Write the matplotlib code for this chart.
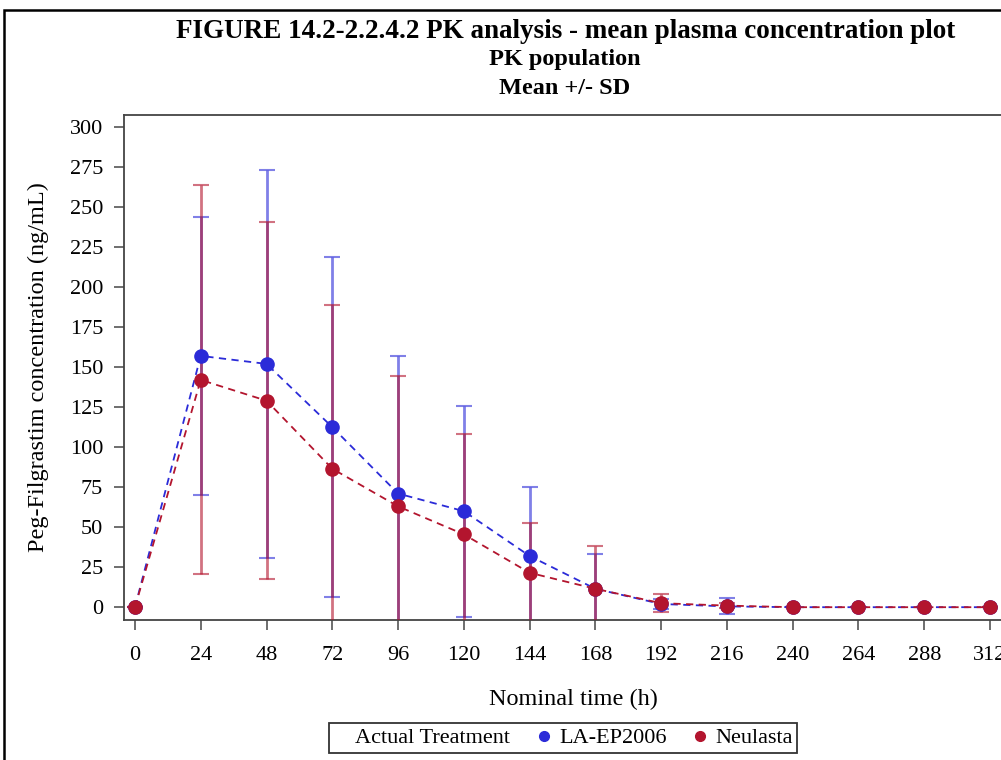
import matplotlib
matplotlib.use("Agg")
import matplotlib.pyplot as plt
from matplotlib.lines import Line2D
from matplotlib.patches import Rectangle

plt.rcParams['font.family'] = ['Liberation Serif', 'DejaVu Serif']

# nominal time points (h)
times = [0, 24, 48, 72, 96, 120, 144, 168, 192, 216, 240, 264, 288, 312]

# LA-EP2006 mean and SD
la_mean = [0, 157, 152, 112.5, 71, 60, 32, 11.5, 2, 0.5, 0, 0, 0, 0]
la_sd = [0, 87, 121, 106, 86, 66, 43, 22, 3, 5, 0, 0, 0, 0]

# Neulasta mean and SD
neu_mean = [0, 142, 129, 86.5, 63, 45.5, 21.5, 11.5, 2.5, 1, 0, 0, 0, 0]
neu_sd = [0, 121.5, 111.5, 102, 81.5, 62.5, 31, 27, 5.5, 1.5, 0, 0, 0, 0]

xticks = list(range(0, 313, 24))
yticks = list(range(0, 301, 25))

blue = '#2B2BD8'
red = '#B3152E'

fig = plt.figure(figsize=(10.01, 7.6), dpi=100)
ax = fig.add_axes([124 / 1001, 1 - 620 / 760, 0.898, 505 / 760])

# error bars first, drawn semi transparent
ax.errorbar(times, la_mean, yerr=la_sd, fmt='none', ecolor=blue, alpha=0.6,
            elinewidth=2, capsize=5.8, capthick=1.5, zorder=2)
ax.errorbar(times, neu_mean, yerr=neu_sd, fmt='none', ecolor=red, alpha=0.6,
            elinewidth=2, capsize=5.8, capthick=1.5, zorder=3)

ax.plot(times, la_mean, color=blue, ls=(0, (4, 3)), lw=1.3, zorder=4)
ax.plot(times, neu_mean, color=red, ls=(0, (4, 3)), lw=1.3, zorder=5)
ax.plot(times, la_mean, 'o', color=blue, ms=9.5, zorder=6)
ax.plot(times, neu_mean, 'o', color=red, ms=9.5, zorder=7)

ax.set_xlim(-4, 324)
ax.set_ylim(-8, 307.5)
ax.set_xticks(xticks)
ax.set_yticks(yticks)
ax.tick_params(direction='out', length=7, width=1.2, color='#555555',
               labelsize=16)
ax.tick_params(axis='x', pad=12)
ax.tick_params(axis='y', pad=8)
for s in ax.spines.values():
    s.set_color('#444444')
    s.set_linewidth(1.3)

ax.set_xlabel('Nominal time (h)', fontsize=17.5, labelpad=17)
ax.set_ylabel('Peg-Filgrastim concentration (ng/mL)', fontsize=17.5, labelpad=15)

fig.text(0.565, 1 - 31 / 760, 'FIGURE 14.2-2.2.4.2 PK analysis - mean plasma concentration plot',
         ha='center', va='center', fontsize=19.5, fontweight='bold')
fig.text(0.564, 1 - 60 / 760, 'PK population', ha='center', va='center',
         fontsize=17.5, fontweight='bold')
fig.text(0.564, 1 - 89 / 760, 'Mean +/- SD', ha='center', va='center',
         fontsize=17.5, fontweight='bold')

handles = [Line2D([], [], ls='none'),
           Line2D([], [], ls='none', marker='o', color=blue, ms=7),
           Line2D([], [], ls='none', marker='o', color=red, ms=7)]
labels = ['Actual Treatment', 'LA-EP2006', 'Neulasta']
leg = fig.legend(handles, labels, loc='center', ncol=3,
                 bbox_to_anchor=(563 / 1001, 1 - 738 / 760), fontsize=16,
                 frameon=True, fancybox=False, edgecolor='black',
                 handlelength=0.6, handletextpad=0.4, columnspacing=1.2,
                 borderpad=0.2, borderaxespad=0)
leg.get_frame().set_linewidth(1.3)

# outer frame of the output page
fig.patches.append(Rectangle((3.5 / 1001, -0.1), 1.2, 1 - 10 / 760 + 0.1,
                             transform=fig.transFigure, fill=False,
                             edgecolor='black', lw=1.8, zorder=0))

fig.savefig('out.png', dpi=100)
